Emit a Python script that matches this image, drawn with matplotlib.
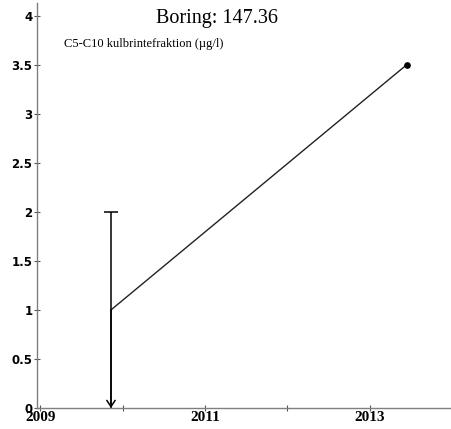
import datetime
import matplotlib
matplotlib.use('Agg')
import matplotlib.pyplot as plt
import matplotlib.dates as mdates

# sample dates and values
dates = [datetime.date(2009, 11, 10), datetime.date(2013, 6, 13)]
values = [1.0, 3.5]
err_upper = [2.0]   # upper end of error bar at first point
err_lower = [0.0]   # lower end (arrow) at first point

major_years = [2009, 2011, 2013]
minor_years = [2010, 2012]

title = 'Boring: 147.36'
subtitle = 'C5-C10 kulbrintefraktion (\u00b5g/l)'

fig = plt.figure(figsize=(4.52, 4.29), dpi=100)
ax = fig.add_axes([37 / 452, 21 / 429, 1 - 37 / 452, 1 - 24 / 429])

ax.plot(dates, values, color='#222222', lw=1.0)
ax.plot(dates[-1:], values[-1:], 'o', color='black', ms=3.8)

# error bar with cap on top only
eb = ax.errorbar(dates[:1], values[:1],
                 yerr=[[values[0] - err_lower[0]], [err_upper[0] - values[0]]],
                 fmt='none', ecolor='black', elinewidth=1.1, capsize=4.8, capthick=1.1)
eb[1][0].set_visible(False)
# open arrow head at the lower end
ax.annotate('', xy=(dates[0], err_lower[0]), xytext=(dates[0], values[0]),
            arrowprops=dict(arrowstyle='->,head_length=0.45,head_width=0.3',
                            color='black', lw=1.1, shrinkA=0, shrinkB=0))

ax.set_ylim(0, 4.13)
ax.set_xlim(datetime.date(2008, 12, 17), datetime.date(2013, 12, 31))
ax.set_yticks([0, 0.5, 1, 1.5, 2, 2.5, 3, 3.5, 4])
ax.set_yticklabels(['0', '0.5', '1', '1.5', '2', '2.5', '3', '3.5', '4'],
                   fontfamily='DejaVu Sans', fontweight='bold', fontsize=8.5)

ax.set_xticks([mdates.date2num(datetime.date(y, 1, 1)) for y in major_years])
ax.set_xticks([mdates.date2num(datetime.date(y, 1, 1)) for y in minor_years], minor=True)
ax.set_xticklabels([str(y) for y in major_years], fontfamily='Liberation Serif',
                   fontweight='bold', fontsize=11)

for s in ['top', 'right']:
    ax.spines[s].set_visible(False)
for s in ['left', 'bottom']:
    ax.spines[s].set_color('#7f7f7f')
    ax.spines[s].set_linewidth(1.0)

ax.tick_params(axis='y', direction='inout', length=4.5, width=0.8, color='#555555', pad=1)
ax.tick_params(axis='x', which='both', direction='inout', length=4.5, width=0.8,
               color='#555555', pad=0)

fig.text(217 / 452, 1 - 18 / 429, title, ha='center', va='center',
         fontfamily='Liberation Serif', fontsize=14.5)
fig.text(64 / 452, 1 - 44 / 429, subtitle, ha='left', va='center',
         fontfamily='Liberation Serif', fontsize=9)

fig.savefig('out.png', dpi=100)
